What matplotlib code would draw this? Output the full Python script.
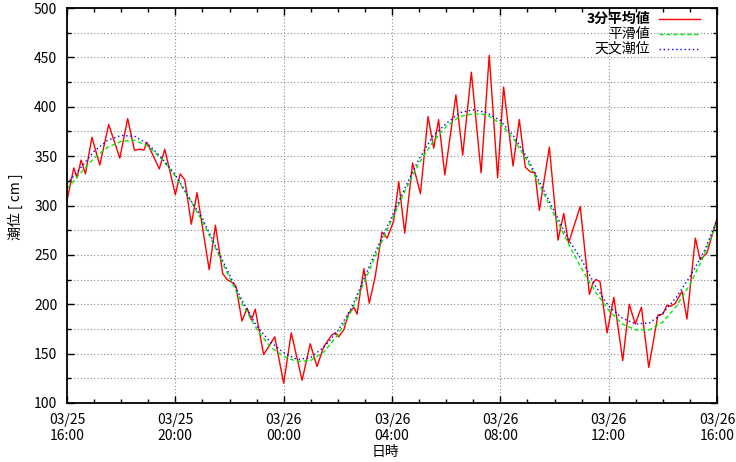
import matplotlib
matplotlib.use('Agg')
import matplotlib.pyplot as plt
from matplotlib.ticker import MultipleLocator
from matplotlib.lines import Line2D
import numpy as np

plt.rcParams['font.family'] = ['Liberation Sans Narrow', 'Noto Sans CJK JP', 'DejaVu Sans']

# hours after 03/25 16:00
t_obs = [0, 0.25, 0.37, 0.52, 0.68, 0.92, 1.21, 1.54, 1.95, 2.24, 2.49, 2.70, 2.84, 2.95,
         3.41, 3.61, 4.0, 4.18, 4.35, 4.59, 4.80, 5.25, 5.48, 5.75, 5.91, 6.16, 6.24,
         6.46, 6.65, 6.81, 6.95, 7.26, 7.67, 8.0, 8.28, 8.68, 8.98, 9.23, 9.48, 9.78,
         9.91, 10.03, 10.22, 10.40, 10.59, 10.71, 10.96, 11.16, 11.38, 11.63, 11.82,
         12.06, 12.25, 12.47, 12.76, 13.05, 13.33, 13.54, 13.72, 13.95, 14.36, 14.61,
         14.93, 15.29, 15.59, 15.90, 16.12, 16.47, 16.70, 16.92, 17.11, 17.28, 17.44,
         17.81, 18.13, 18.34, 18.52, 18.95, 19.29, 19.42, 19.53, 19.68, 19.94, 20.19,
         20.52, 20.76, 20.98, 21.21, 21.48, 21.82, 22.0, 22.15, 22.30, 22.46, 22.71,
         22.89, 23.2, 23.38, 23.63, 24.0]
v_obs = [305, 338, 328, 346, 332, 369, 341, 382, 348, 388, 356, 357, 356, 364,
         337, 357, 311, 332, 326, 281, 313, 235, 280, 231, 225, 221, 218,
         183, 196, 184, 195, 149, 167, 120, 171, 123, 160, 137, 157, 169,
         171, 167, 174, 191, 197, 190, 236, 201, 228, 273, 267,
         284, 324, 272, 343, 312, 390, 358, 387, 331, 412, 351,
         435, 333, 452, 328, 420, 340, 387, 339, 334, 333, 295,
         359, 265, 292, 262, 299, 210, 222, 225, 223, 171, 207,
         143, 200, 180, 197, 136, 189, 190, 199, 198, 201, 213,
         185, 267, 245, 252, 287]

t_half = np.arange(49) * 0.5
smooth = [317, 333, 348, 359, 365, 366, 360, 347, 330, 308, 284, 256, 227, 199, 175, 157,
          147, 142, 143, 152, 169, 193, 224, 256, 286, 316, 343, 364, 380, 390, 393, 392,
          383, 367, 345, 318, 290, 262, 236, 213, 194, 180, 174, 174, 182, 198, 220, 248, 283]
astro = [322, 338, 355, 366, 371, 370, 362, 348, 331, 308, 287, 258, 230, 202, 178, 162,
         151, 144, 146, 157, 173, 196, 228, 260, 289, 319, 347, 370, 383, 394, 397, 394,
         386, 370, 348, 321, 294, 266, 245, 219, 198, 186, 180, 181, 191, 207, 228, 252, 285]

xticks = [0, 4, 8, 12, 16, 20, 24]
xlabels = ['03/25\n16:00', '03/25\n20:00', '03/26\n00:00', '03/26\n04:00',
           '03/26\n08:00', '03/26\n12:00', '03/26\n16:00']

fig = plt.figure(figsize=(7.36, 4.62), dpi=100)
ax = fig.add_axes([67/736, 1-403/462, 650/736, 395/462])

ax.plot(t_obs, v_obs, color='#ff0000', lw=1.0)
ax.plot(t_half, smooth, color='#00ee00', lw=1.0, ls=(0, (3, 2)))
ax.plot(t_half, astro, color='#0000ff', lw=1.0, ls=(0, (1, 2)))

ax.set_xlim(0, 24)
ax.set_ylim(100, 500)
ax.set_xticks(xticks)
ax.set_xticklabels(xlabels, linespacing=1.25)
ax.xaxis.set_minor_locator(MultipleLocator(1))
ax.yaxis.set_major_locator(MultipleLocator(50))
ax.yaxis.set_minor_locator(MultipleLocator(25))
ax.tick_params(which='both', direction='in', top=True, right=True, labelsize=10)
ax.tick_params(which='major', length=5, width=1)
ax.tick_params(which='minor', length=3, width=1)
ax.tick_params(axis='y', pad=7)
ax.tick_params(axis='x', pad=7)
ax.grid(which='major', axis='x', color='#888888', ls=(0, (1, 2)), lw=0.8)
ax.grid(which='both', axis='y', color='#888888', ls=(0, (1, 2)), lw=0.8)
for s in ax.spines.values():
    s.set_linewidth(1.3)

fig.text(15/736, 1-207/462, '潮位 [ cm ]', rotation=90, ha='center', va='center', fontsize=10)
fig.text(385/736, 1-452/462, '日時', ha='center', va='center', fontsize=10)

# legend drawn by hand, text right aligned
names = ['3分平均値', '平滑値', '天文潮位']
cols = ['#ff0000', '#00ee00', '#0000ff']
styles = ['-', (0, (3, 2)), (0, (1, 2))]
rows = [19, 34, 49]
for nm, c, st, r in zip(names, cols, styles, rows):
    y = 1 - r/462
    fig.text(650/736, y, nm, ha='right', va='center', fontsize=10,
             fontweight='bold' if nm == names[0] else 'normal')
    fig.add_artist(Line2D([659/736, 700/736], [y, y], color=c, lw=1.0, ls=st,
                          transform=fig.transFigure))

fig.savefig('out.png', dpi=100)
